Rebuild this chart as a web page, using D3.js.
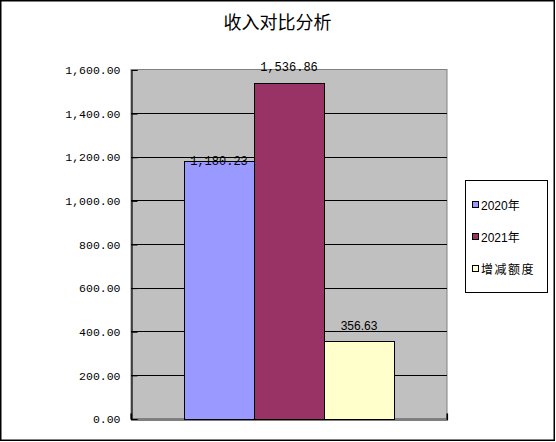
<!DOCTYPE html>
<html>
<head>
<meta charset="utf-8">
<script src="https://cdn.jsdelivr.net/npm/d3@7/dist/d3.min.js"></script>
<style>
  html, body { margin: 0; padding: 0; background: #fff; }
  svg { display: block; }
</style>
</head>
<body>
<script>
// Income comparison: one category, three series
const categories = ["收入"];
const seriesNames = ["2020年", "2021年", "增减额度"];
const seriesValues = [1180.23, 1536.86, 356.63];
const seriesColors = ["#9999FF", "#993366", "#FFFFCC"];
const yTicks = [0, 200, 400, 600, 800, 1000, 1200, 1400, 1600];
const titleText = "收入对比分析";

const W = 556, H = 442;
const plot = { left: 131, right: 447, top: 69.5, bottom: 418.5 };

const svg = d3.select("body").append("svg")
  .attr("width", W).attr("height", H);

// outer chart frame
svg.append("rect")
  .attr("x", 0.75).attr("y", 0.75)
  .attr("width", 553.5).attr("height", 439.5)
  .attr("fill", "#fff").attr("stroke", "#000").attr("stroke-width", 1.5);

// title
svg.append("text")
  .attr("x", 277.5).attr("y", 29)
  .attr("text-anchor", "middle")
  .attr("font-family", "'Noto Sans CJK SC', sans-serif")
  .attr("font-size", 18)
  .attr("fill", "#000")
  .text(titleText);

const y = d3.scaleLinear().domain([0, 1600]).range([plot.bottom, plot.top]);
// gap width of 150% of a bar on each side of the cluster
const groupW = 210;
const x0 = d3.scaleBand().domain(categories).range([plot.left, plot.right])
  .paddingInner(0).paddingOuter(((plot.right - plot.left) / groupW - 1) / 2);
const x1 = d3.scaleBand().domain(seriesNames).range([0, x0.bandwidth()]).padding(0);

// plot background
svg.append("rect")
  .attr("x", plot.left).attr("y", plot.top)
  .attr("width", plot.right - plot.left).attr("height", plot.bottom - plot.top)
  .attr("fill", "#C0C0C0")
  .attr("stroke", "#808080").attr("stroke-width", 1);

// gridlines
svg.append("g")
  .selectAll("line")
  .data(yTicks.filter(t => t > 0 && t < 1600))
  .join("line")
  .attr("x1", plot.left).attr("x2", plot.right)
  .attr("y1", d => Math.round(y(d)) + 0.5).attr("y2", d => Math.round(y(d)) + 0.5)
  .attr("stroke", "#000").attr("stroke-width", 1);

// bars
const barsG = svg.append("g");
categories.forEach(cat => {
  barsG.selectAll("rect.bar")
    .data(seriesValues.map((v, i) => ({ v, i, name: seriesNames[i] })))
    .join("rect")
    .attr("class", "bar")
    .attr("x", d => Math.round(x0(cat) + x1(d.name)) + 0.5)
    .attr("y", d => Math.round(y(d.v)) + 0.5)
    .attr("width", x1.bandwidth())
    .attr("height", d => Math.round(y(0)) - Math.round(y(d.v)))
    .attr("fill", d => seriesColors[d.i])
    .attr("stroke", "#000").attr("stroke-width", 1);
});

// y axis
const yAxis = d3.axisLeft(y)
  .tickValues(yTicks)
  .tickSize(-6)
  .tickPadding(11)
  .tickFormat(d3.format(",.2f"));
const ay = svg.append("g")
  .attr("transform", `translate(${plot.left + 0.5},0.5)`)
  .call(yAxis);
ay.select(".domain").attr("stroke", "#000").attr("stroke-width", 1.2);
ay.selectAll(".tick line").attr("stroke", "#000");
ay.selectAll(".tick text")
  .attr("font-family", "'Liberation Mono', monospace")
  .attr("font-size", 11.5)
  .attr("fill", "#000");

// x axis (baseline)
const xAxis = d3.axisBottom(x0).tickSize(-6).tickFormat(() => "");
const ax = svg.append("g")
  .attr("transform", `translate(0,${Math.round(plot.bottom) + 0.5})`)
  .call(xAxis);
ax.select(".domain").attr("stroke", "#000").attr("stroke-width", 1.2);
ax.selectAll(".tick").remove();
[plot.left, plot.right].forEach(px => {
  ax.append("line").attr("x1", px).attr("x2", px).attr("y1", 0).attr("y2", -6)
    .attr("stroke", "#000");
});

// value labels
const labelFonts = ["'Liberation Mono', monospace", "'Liberation Mono', monospace", "'Liberation Sans', Arial, sans-serif"];
const labelShift = [4, -12, -11];
svg.append("g").selectAll("text")
  .data(seriesValues.map((v, i) => ({ v, i, name: seriesNames[i] })))
  .join("text")
  .attr("x", d => x0(categories[0]) + x1(d.name) + x1.bandwidth() / 2)
  .attr("y", d => y(d.v) + labelShift[d.i])
  .attr("text-anchor", "middle")
  .attr("font-family", d => labelFonts[d.i])
  .attr("font-size", 12)
  .attr("fill", "#000")
  .text(d => d3.format(",.2f")(d.v));

// legend
const lg = svg.append("g");
lg.append("rect")
  .attr("x", 465.5).attr("y", 180.5).attr("width", 82).attr("height", 112)
  .attr("fill", "#fff").attr("stroke", "#000").attr("stroke-width", 1);
const rowY = [205, 237, 269];
const items = lg.selectAll("g.item")
  .data(seriesNames.map((n, i) => ({ n, i })))
  .join("g").attr("class", "item")
  .attr("transform", d => `translate(472,${rowY[d.i]})`);
items.append("rect")
  .attr("x", 0.5).attr("y", -3.5).attr("width", 6).attr("height", 6)
  .attr("fill", d => seriesColors[d.i])
  .attr("stroke", "#000").attr("stroke-width", 1);
items.append("text")
  .attr("x", 9).attr("y", 4.5)
  .attr("font-family", "'Liberation Sans', 'Noto Sans CJK SC', sans-serif")
  .attr("font-size", 12)
  .attr("letter-spacing", d => d.i === 2 ? 1.5 : 0)
  .attr("fill", "#000")
  .text(d => d.n);
</script>
</body>
</html>
